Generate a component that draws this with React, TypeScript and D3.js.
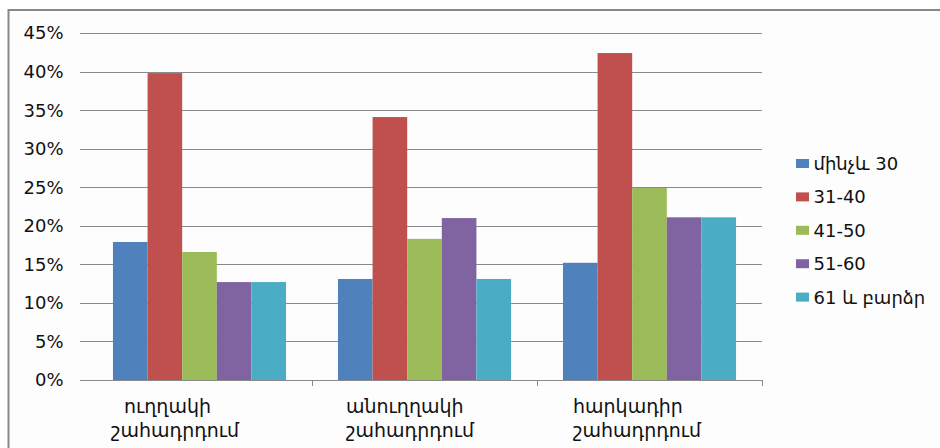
import React from "react";
import * as d3 from "d3";

// categories (two text lines each) and age groups
const categories = ["ուղղակի շահադրդում", "անուղղակի շահադրդում", "հարկադիր շահադրդում"];
const categoryLines = [
    ["ուղղակի", "շահադրդում"],
    ["անուղղակի", "շահադրդում"],
    ["հարկադիր", "շահադրդում"],
];
const seriesNames = ["մինչև 30", "31-40", "41-50", "51-60", "61 և բարձր"];
const seriesColors = ["#4F81BD", "#C0504D", "#9BBB59", "#8064A2", "#4BACC6"];

// percentages per series, one value per category
const under30 = [17.9, 13.1, 15.2];
const age31to40 = [39.8, 34.1, 42.4];
const age41to50 = [16.6, 18.3, 24.9];
const age51to60 = [12.7, 21.0, 21.1];
const age61plus = [12.7, 13.1, 21.1];
const seriesValues = [under30, age31to40, age41to50, age51to60, age61plus];

const yTicks = [0, 5, 10, 15, 20, 25, 30, 35, 40, 45];

const W = 940;
const H = 448;
const FONT = "'DejaVu Sans', sans-serif";
const TEXT = "#111";
const GRID = "#8a8a8a";

// left offsets of the two label lines inside each band
const labelOffsets = [
    [37, 24],
    [34, 34],
    [36, 36],
];

const App: React.FC = () => {
    const plot = { left: 87, right: 762, top: 33, bottom: 380 };

    const x0 = d3.scaleBand<string>().domain(categories).range([plot.left, plot.right]).padding(0);
    const x1 = d3
        .scaleBand<string>()
        .domain(seriesNames)
        .range([0, x0.bandwidth()])
        .paddingInner(0)
        .paddingOuter(0.75);
    const y = d3.scaleLinear().domain([0, 45]).range([plot.bottom, plot.top]);

    return (
        <svg
            width={W}
            height={H}
            style={{ position: "absolute", left: 0, top: 0, display: "block" }}
        >
            <rect x={0} y={0} width={W} height={H} fill="#ffffff" />
            {/* chart frame, runs off the right and bottom edge */}
            <rect x={8.5} y={10} width={W + 20} height={H + 20} fill="#fdfdfd" stroke="#888" strokeWidth={2} />

            {/* gridlines + y labels */}
            {yTicks.map(t => (
                <g key={t}>
                    <line
                        x1={80}
                        x2={plot.right}
                        y1={Math.round(y(t)) + 0.5}
                        y2={Math.round(y(t)) + 0.5}
                        stroke={GRID}
                        strokeWidth={1}
                    />
                    <text
                        x={63.5}
                        y={y(t)}
                        dy="0.36em"
                        textAnchor="end"
                        fontFamily={FONT}
                        fontSize={18}
                        fill={TEXT}
                    >
                        {t}%
                    </text>
                </g>
            ))}

            {/* bars */}
            {categories.map((c, ci) => (
                <g key={c} transform={`translate(${x0(c)},0)`}>
                    {seriesNames.map((s, si) => {
                        const v = seriesValues[si][ci];
                        return (
                            <rect
                                key={s}
                                x={x1(s)}
                                y={y(v)}
                                width={x1.bandwidth()}
                                height={y(0) - y(v)}
                                fill={seriesColors[si]}
                            />
                        );
                    })}
                </g>
            ))}

            {/* x axis line and ticks */}
            <line x1={80} x2={plot.right} y1={plot.bottom + 0.5} y2={plot.bottom + 0.5} stroke={GRID} />
            {categories.map(c => {
                const xe = Math.round((x0(c) ?? 0) + x0.bandwidth()) + 0.5;
                return <line key={c} x1={xe} x2={xe} y1={plot.bottom} y2={plot.bottom + 6} stroke={GRID} />;
            })}

            {/* category labels */}
            {categories.map((c, ci) => (
                <text key={c} fontFamily={FONT} fontSize={19} fill={TEXT}>
                    {categoryLines[ci].map((line, li) => (
                        <tspan key={li} x={(x0(c) ?? 0) + labelOffsets[ci][li]} y={413 + li * 24}>
                            {line}
                        </tspan>
                    ))}
                </text>
            ))}

            {/* legend */}
            {seriesNames.map((s, i) => {
                const cy = 163.5 + i * 33.4;
                return (
                    <g key={s}>
                        <rect x={796} y={cy - 4.5} width={13} height={9} fill={seriesColors[i]} />
                        <text
                            x={813.5}
                            y={cy}
                            dy="0.36em"
                            fontFamily={FONT}
                            fontSize={18}
                            fill={TEXT}
                        >
                            {s}
                        </text>
                    </g>
                );
            })}
        </svg>
    );
};

export default App;
